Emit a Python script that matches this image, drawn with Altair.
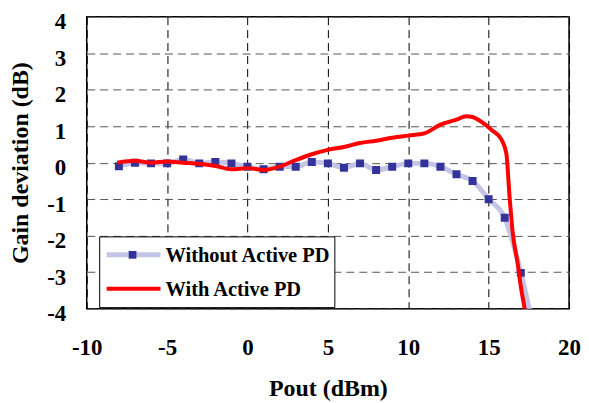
import altair as alt
import pandas as pd

# ---- data ----
pout_markers = [-8, -7, -6, -5, -4, -3, -2, -1, 0, 1, 2, 3, 4, 5, 6, 7, 8, 9, 10,
                11, 12, 13, 14, 15, 16, 17]
gain_without = [-0.10, 0.00, -0.02, -0.02, 0.09, -0.02, 0.02, -0.02, -0.11, -0.18,
                -0.11, -0.11, 0.02, -0.02, -0.14, -0.02, -0.20, -0.11, -0.02, -0.02,
                -0.11, -0.32, -0.50, -1.00, -1.51, -3.02]
pout_without_line = pout_markers + [17.6]
gain_without_line = gain_without + [-4.15]

pout_with = [-8.1, -7, -6, -5, -4, -3, -2, -1, 0, 1, 2, 3, 4, 5, 6, 7, 8, 9, 10,
             11, 12, 13, 13.6, 14.0, 14.4, 15.2, 15.8, 16.1, 16.3, 16.5, 16.8, 17.0,
             17.25, 17.35]
gain_with = [0.00, 0.05, 0.00, 0.03, 0.00, -0.03, -0.09, -0.18, -0.15, -0.20, -0.11,
             0.07, 0.23, 0.35, 0.43, 0.54, 0.60, 0.68, 0.74, 0.80, 1.04, 1.18, 1.27,
             1.25, 1.16, 0.89, 0.63, 0.25, -0.93, -1.93, -2.75, -3.39, -4.03, -4.3]

x_ticks = [-10, -5, 0, 5, 10, 15, 20]
y_ticks = [-4, -3, -2, -1, 0, 1, 2, 3, 4]
legend_labels = ["Without Active PD", "With Active PD"]

FONT = "Liberation Serif"

df_markers = pd.DataFrame({"x": pout_markers, "y": gain_without})
df_wo_line = pd.DataFrame({"x": pout_without_line, "y": gain_without_line})
df_with = pd.DataFrame({"x": pout_with, "y": gain_with})

xs = alt.Scale(domain=[-10, 20], nice=False, zero=False)
ys = alt.Scale(domain=[-4, 4], nice=False, zero=False)

x_axis = alt.Axis(values=x_ticks, title="Pout (dBm)", labelOverlap=False,
                  labelExpr="toString(datum.value)", labelPadding=28, titlePadding=17,
                  gridColor="black")
y_axis = alt.Axis(values=y_ticks, title="Gain deviation (dB)", labelOverlap=False,
                  labelExpr="toString(datum.value)", labelPadding=21, titlePadding=14,
                  labelOffset=5, gridColor="#555555")

X = alt.X("x:Q", scale=xs, axis=x_axis)
Y = alt.Y("y:Q", scale=ys, axis=y_axis)

light_line = alt.Chart(df_wo_line).mark_line(
    color="#c4c4e6", strokeWidth=5, interpolate="monotone", clip=True
).encode(x=X, y=Y)

squares = alt.Chart(df_markers).mark_square(
    color="#333399", size=64, opacity=1, filled=True, clip=True
).encode(x=X, y=Y)

red_line = alt.Chart(df_with).mark_line(
    color="#ff0000", strokeWidth=4, interpolate="monotone", clip=True
).encode(x=X, y=Y)

# ---- hand-built legend (light line + square symbol is not a native legend symbol) ----
one = pd.DataFrame({"a": [0]})
leg_box = alt.Chart(one).mark_rect(fill="white", stroke="black", strokeWidth=1).encode(
    x=alt.value(13), x2=alt.value(249), y=alt.value(221), y2=alt.value(292))
leg_line1 = alt.Chart(one).mark_rule(color="#c4c4e6", strokeWidth=5).encode(
    x=alt.value(20), x2=alt.value(74), y=alt.value(239))
leg_sq = alt.Chart(one).mark_square(color="#333399", size=60, opacity=1).encode(
    x=alt.value(46), y=alt.value(239))
leg_line2 = alt.Chart(one).mark_rule(color="#ff0000", strokeWidth=4).encode(
    x=alt.value(20), x2=alt.value(74), y=alt.value(273))
leg_text1 = alt.Chart(one).mark_text(
    text=legend_labels[0], align="left", baseline="middle", font=FONT,
    fontSize=20.5, fontWeight="bold", color="black").encode(
    x=alt.value(79), y=alt.value(240))
leg_text2 = alt.Chart(one).mark_text(
    text=legend_labels[1], align="left", baseline="middle", font=FONT,
    fontSize=20.5, fontWeight="bold", color="black").encode(
    x=alt.value(79), y=alt.value(274))

chart = alt.layer(
    light_line, squares, red_line,
    leg_box, leg_line1, leg_sq, leg_line2, leg_text1, leg_text2
).properties(
    width=484, height=293,
    background="white",
    autosize=alt.AutoSizeParams(type="none"),
    padding={"left": 79, "top": 8, "right": 12, "bottom": 92},
).configure_axis(
    grid=True, gridDash=[8, 5], gridWidth=1, domain=False, ticks=False,
    labelFont=FONT, labelFontSize=23, labelFontWeight="bold", labelColor="black",
    labelFlush=False, labelOverlap=False,
    titleFont=FONT, titleFontSize=24, titleFontWeight="bold", titleColor="black",
).configure_view(
    stroke="black", strokeWidth=1.5
)

chart.save("out.html", embed_options={"renderer": "svg", "actions": False})
